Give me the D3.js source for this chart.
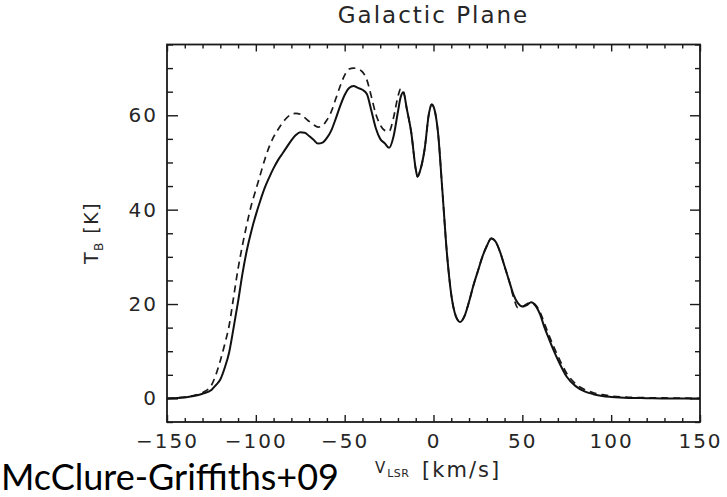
<!DOCTYPE html>
<html>
<head>
<meta charset="utf-8">
<script src="https://cdn.jsdelivr.net/npm/d3@7"></script>
<style>
  html, body { margin: 0; padding: 0; background: #fff; }
  svg { display: block; }
  .tick text { font-family: "DejaVu Sans", sans-serif; font-size: 20px; fill: #262626; letter-spacing: 2px; }
  .domain { display: none; }
</style>
</head>
<body>
<svg id="chart" width="727" height="497"></svg>
<script>
// HI brightness temperature profile along the Galactic plane
const velocity = [-150, -140, -135, -130, -125, -122.5, -120, -117.5, -115, -112.5, -110, -107.5, -105, -102.5, -100,
  -97.5, -95, -92.5, -90, -87.5, -85, -82.5, -80, -77.5, -75, -72.5, -70, -67.5, -65, -62.5, -60, -57.5, -55,
  -52.5, -50, -47.5, -45, -42.5, -40, -37.5, -35, -32.5, -30, -27.5, -25, -22.5, -20, -18.5, -17, -15, -12.5,
  -10, -9, -7.5, -5, -2.5, -1, 0.5, 2.5, 5, 7.5, 10, 12.5, 15, 17.5, 20, 22.5, 25, 27.5, 30, 32.5, 35, 37.5,
  40, 42.5, 45, 47.5, 50, 52.5, 55, 57.5, 60, 62.5, 65, 67.5, 70, 75, 80, 85, 90, 95, 100, 110, 120, 130, 140, 150];

// solid profile
const tbSolid = [0, 0.2, 0.5, 1.0, 1.8, 2.8, 4.0, 6.5, 9.8, 15, 20.5, 26.5, 31.5, 35.5, 38.9,
  41.9, 44.6, 46.8, 48.8, 50.5, 51.9, 53.3, 54.7, 55.8, 56.4, 56.3, 55.6, 54.8, 54.0, 54.2, 55.2, 56.8, 59.3,
  62, 64.3, 65.8, 66.2, 65.8, 65.4, 64.5, 61, 57.3, 55, 54.1, 53.1, 55.5, 60.8, 63.8, 64.9, 61.3, 56.3,
  48.6, 47, 48.3, 52.8, 60.5, 62.3, 61.3, 56.5, 44, 31, 22, 17.5, 16.2, 17.5, 20.5, 24, 27, 30, 32.3, 33.9, 33.2, 31,
  28, 25, 22, 20.2, 19.5, 19.8, 20.4, 19.6, 17.8, 15, 12.6, 10.3, 8.2, 4.6, 2.6, 1.5, 0.9, 0.5, 0.3, 0.1, 0.05, 0, 0, 0];

// dashed profile
const tbDashed = [0, 0.3, 0.6, 1.2, 2.8, 5.0, 8.0, 11.5, 15.5, 21.5, 27.5, 32.5, 37, 41, 44.2,
  47.4, 50.6, 53.3, 55.4, 57, 58.4, 59.5, 60.2, 60.4, 60.2, 59.5, 58.7, 58, 57.5, 57.8, 59, 60.8, 63.5,
  66.2, 68.5, 69.8, 70, 69.8, 69.2, 67.5, 64, 60.3, 58, 56.8, 56.6, 59.5, 64, 65.6, 65.2, 61.3, 56.3,
  48.6, 47, 48.3, 52.8, 60.5, 62.3, 61.3, 56.5, 44, 31, 22, 17.5, 16.2, 17.5, 20.5, 24, 27, 30, 32.3, 33.9, 33.2, 31,
  28, 25, 21.5, 19.2, 19.4, 20, 20.3, 19.8, 18.3, 15.8, 13.4, 11.1, 9.0, 5.3, 3.1, 1.9, 1.2, 0.8, 0.5, 0.25, 0.15, 0.1, 0.05, 0];

const xMajorTicks = [-150, -100, -50, 0, 50, 100, 150];
const yMajorTicks = [0, 20, 40, 60];

const svg = d3.select("#chart");
const plotLeft = 167, plotRight = 700, plotTop = 44.5, plotBottom = 422;

const x = d3.scaleLinear().domain([-150, 150]).range([plotLeft, plotRight]);
const y = d3.scaleLinear().domain([-5, 75]).range([plotBottom, plotTop]);

const xMinor = d3.range(-150, 151, 10).filter(v => v % 50 !== 0);
const yMinor = d3.range(-5, 76, 5).filter(v => v % 20 !== 0);
const fmt = d => d < 0 ? "\u2212" + Math.abs(d) : String(d);

// frame
svg.append("rect")
  .attr("x", plotLeft).attr("y", plotTop)
  .attr("width", plotRight - plotLeft).attr("height", plotBottom - plotTop)
  .attr("fill", "none").attr("stroke", "#1a1a1a").attr("stroke-width", 1.8);

function axisGroup(axis, tx, ty) {
  const g = svg.append("g").attr("transform", `translate(${tx},${ty})`).call(axis);
  g.selectAll(".tick line").attr("stroke", "#1a1a1a").attr("stroke-width", 1.4);
  return g;
}

// bottom axis (labelled) and top axis
axisGroup(d3.axisBottom(x).tickValues(xMajorTicks).tickFormat(fmt).tickSizeInner(-7).tickSizeOuter(0).tickPadding(12), 0, plotBottom);
axisGroup(d3.axisBottom(x).tickValues(xMinor).tickFormat("").tickSizeInner(-4).tickSizeOuter(0), 0, plotBottom);
axisGroup(d3.axisTop(x).tickValues(xMajorTicks).tickFormat("").tickSizeInner(-7).tickSizeOuter(0), 0, plotTop);
axisGroup(d3.axisTop(x).tickValues(xMinor).tickFormat("").tickSizeInner(-4).tickSizeOuter(0), 0, plotTop);

// left axis (labelled) and right axis
axisGroup(d3.axisLeft(y).tickValues(yMajorTicks).tickFormat(fmt).tickSizeInner(-11).tickSizeOuter(0).tickPadding(9), plotLeft, 0);
axisGroup(d3.axisLeft(y).tickValues(yMinor).tickFormat("").tickSizeInner(-6).tickSizeOuter(0), plotLeft, 0);
axisGroup(d3.axisRight(y).tickValues(yMajorTicks).tickFormat("").tickSizeInner(-10).tickSizeOuter(0), plotRight, 0);
axisGroup(d3.axisRight(y).tickValues(yMinor).tickFormat("").tickSizeInner(-5).tickSizeOuter(0), plotRight, 0);

svg.selectAll(".tick text").attr("font-family", null).attr("font-size", null);

// profiles
const line = d3.line().x(d => x(d[0])).y(d => y(d[1])).curve(d3.curveMonotoneX);
svg.append("clipPath").attr("id", "plotClip")
  .append("rect").attr("x", plotLeft).attr("y", plotTop)
  .attr("width", plotRight - plotLeft).attr("height", plotBottom - plotTop);

svg.append("path")
  .datum(velocity.map((v, i) => [v, tbDashed[i]]))
  .attr("d", line).attr("clip-path", "url(#plotClip)")
  .attr("fill", "none").attr("stroke", "#1a1a1a").attr("stroke-width", 1.7)
  .attr("stroke-dasharray", "7,5");

svg.append("path")
  .datum(velocity.map((v, i) => [v, tbSolid[i]]))
  .attr("d", line).attr("clip-path", "url(#plotClip)")
  .attr("fill", "none").attr("stroke", "#111").attr("stroke-width", 2);

// title
svg.append("text")
  .attr("x", (plotLeft + plotRight) / 2).attr("y", 23)
  .attr("text-anchor", "middle")
  .attr("font-family", "DejaVu Sans, sans-serif").attr("font-size", 23)
  .attr("letter-spacing", 2).attr("fill", "#262626")
  .text("Galactic Plane");

// y axis title
const yt = svg.append("text")
  .attr("transform", `translate(98, 233) rotate(-90)`)
  .attr("text-anchor", "middle")
  .attr("font-family", "DejaVu Sans, sans-serif").attr("font-size", 19)
  .attr("letter-spacing", 1.5).attr("fill", "#262626");
yt.append("tspan").text("T");
yt.append("tspan").attr("font-size", 12).attr("dy", 5).text("B");
yt.append("tspan").attr("dy", -5).text(" [K]");

// x axis title
const xt = svg.append("text")
  .attr("x", 438).attr("y", 477)
  .attr("text-anchor", "middle")
  .attr("font-family", "DejaVu Sans, sans-serif").attr("font-size", 21)
  .attr("letter-spacing", 2).attr("fill", "#262626");
xt.append("tspan").attr("font-size", 15).attr("dy", -4).text("V");
xt.append("tspan").attr("font-size", 11).attr("dy", 4).attr("letter-spacing", 0.5).text("LSR");
xt.append("tspan").attr("dx", 4).text(" [km/s]");

// citation
svg.append("text")
  .attr("x", 1).attr("y", 490)
  .attr("font-family", "Lato, sans-serif").attr("font-size", 36)
  .attr("fill", "#000")
  .text("McClure-Griffiths+09");
</script>
</body>
</html>
